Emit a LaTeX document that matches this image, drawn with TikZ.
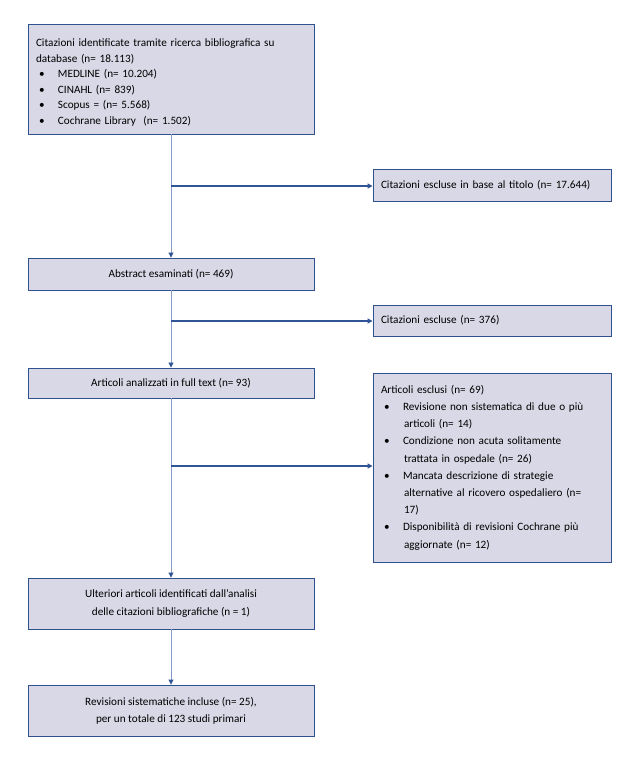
\documentclass[tikz,border=0pt]{standalone}
\usepackage{fontspec}
\setmainfont{Carlito}
\usetikzlibrary{arrows.meta}
\definecolor{boxfill}{RGB}{216,216,230}
\definecolor{boxline}{RGB}{47,82,143}
\definecolor{vline}{RGB}{132,156,198}
\definecolor{hline}{RGB}{47,85,151}
\newcommand{\bl}{\hspace*{3pt}\makebox[19pt][l]{\textbullet}}
\newcommand{\bi}{\hspace*{23pt}}
\begin{document}
\begin{tikzpicture}[x=1pt,y=-1pt,
  box/.style={draw=boxline, fill=boxfill, line width=0.9pt, inner sep=0pt,
    font=\fontsize{11.2}{17.2}\selectfont},
  lbox/.style={box, minimum width=286pt},
  rbox/.style={box, minimum width=238pt, text width=222pt, align=left},
  vconn/.style={draw=vline, line width=0.9pt, -{Triangle[length=5pt,width=5pt,color=hline]}},
  hconn/.style={draw=hline, line width=1.3pt, -{Triangle[length=5pt,width=5pt,color=hline]}}]
\useasboundingbox (0,0) rectangle (638,773);
\fill[white] (0,0) rectangle (638,773);

\node[lbox, minimum height=110pt, text width=270pt, align=left,
  font=\fontsize{11.2}{15.6}\selectfont] (b1) at (171,79) {\rule{0pt}{15pt}Citazioni identificate tramite ricerca bibliografica su\\
database (n= 18.113)\\
\bl MEDLINE (n= 10.204)\\
\bl CINAHL (n= 839)\\
\bl Scopus = (n= 5.568)\\
\bl Cochrane Library\ \ (n= 1.502)};

\node[rbox, minimum height=32pt] (b2) at (492,185) {Citazioni escluse in base al titolo (n= 17.644)};

\node[lbox, minimum height=32pt, align=center] (b3) at (171,274) {Abstract esaminati (n= 469)};

\node[rbox, minimum height=31pt] (b4) at (492,320.5) {Citazioni escluse (n= 376)};

\node[lbox, minimum height=30pt, align=center] (b5) at (171,383) {Articoli analizzati in full text (n= 93)};

\node[rbox, minimum height=189pt] (b6) at (492,467.5) {Articoli esclusi (n= 69)\\
\bl Revisione non sistematica di due o più\\
\bi articoli (n= 14)\\
\bl Condizione non acuta solitamente\\
\bi trattata in ospedale (n= 26)\\
\bl Mancata descrizione di strategie\\
\bi alternative al ricovero ospedaliero (n=\\
\bi 17)\\
\bl Disponibilità di revisioni Cochrane più\\
\bi aggiornate (n= 12)};

\node[lbox, minimum height=51pt, align=center] (b7) at (171,603.5) {Ulteriori articoli identificati dall’analisi\\ delle citazioni bibliografiche (n = 1)};

\node[lbox, minimum height=51pt, align=center] (b8) at (171,710.5) {Revisioni sistematiche incluse (n= 25),\\ per un totale di 123 studi primari};

\coordinate (j1) at (171,186);
\coordinate (j2) at (171,321);
\coordinate (j3) at (171,466);

\draw[vconn] (b1.south) -- (b3.north);
\draw[vconn] (b3.south) -- (b5.north);
\draw[vconn] (b5.south) -- (b7.north);
\draw[vconn] (b7.south) -- (b8.north);

\draw[hconn] (j1) -- (j1 -| b2.west);
\draw[hconn] (j2) -- (j2 -| b4.west);
\draw[hconn] (j3) -- (j3 -| b6.west);
\end{tikzpicture}
\end{document}
